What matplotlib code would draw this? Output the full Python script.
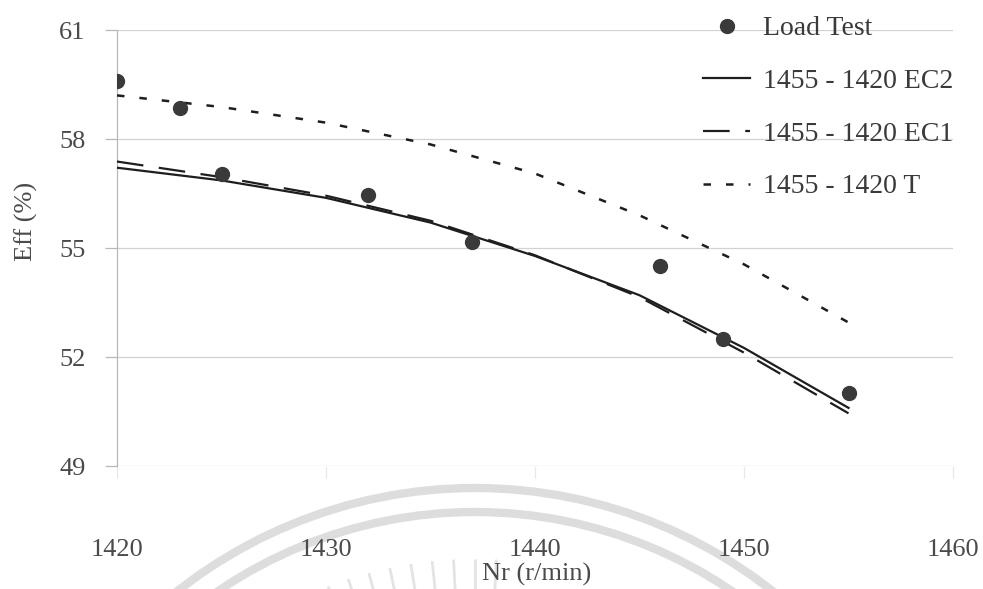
import numpy as np
import matplotlib
matplotlib.use("Agg")
import matplotlib.pyplot as plt
from matplotlib.patches import Circle
from matplotlib.lines import Line2D

plt.rcParams['font.family'] = ['Liberation Serif', 'DejaVu Serif']

# Measured load-test points
speed_test = [1420, 1423, 1425, 1432, 1437, 1446, 1449, 1455]
eff_test = [59.6, 58.85, 57.05, 56.45, 55.17, 54.5, 52.5, 51.0]

# Estimated efficiency curves
speed_fit = [1420, 1425, 1430, 1435, 1440, 1445, 1450, 1455]
eff_ec2 = [57.21, 56.86, 56.38, 55.70, 54.78, 53.70, 52.25, 50.60]
eff_ec1 = [57.38, 56.95, 56.44, 55.75, 54.80, 53.65, 52.12, 50.45]
eff_t = [59.20, 58.88, 58.45, 57.85, 57.05, 55.90, 54.55, 52.95]

labels = ['Load Test', '1455 - 1420 EC2', '1455 - 1420 EC1', '1455 - 1420 T']
x_ticks = [1420, 1430, 1440, 1450, 1460]
y_ticks = [49, 52, 55, 58, 61]

W, H = 983, 589
fig = plt.figure(figsize=(W / 100, H / 100), dpi=100)

# Faint seal in the lower margin, drawn in pixel space
bg = fig.add_axes([0, 0, 1, 1], zorder=0)
bg.set_xlim(0, W)
bg.set_ylim(H, 0)
bg.axis('off')
seal_col = '#dddddd'
cx, cy = 475, 969
for r in (481, 457):
    bg.add_patch(Circle((cx, cy), r, fill=False, ec=seal_col, lw=6.0))
for a in np.deg2rad(np.arange(87, 112, 3)):
    bg.plot([cx + 372 * np.cos(a), cx + 410 * np.cos(a)],
            [cy - 372 * np.sin(a), cy - 410 * np.sin(a)],
            color='#e4e4e4', lw=2.0, solid_capstyle='butt')

ax = fig.add_axes([117 / W, 1 - 466 / H, (953 - 117) / W, (466 - 30) / H], zorder=1)
ax.patch.set_alpha(0)

line_col = '#1e1e1e'
ax.plot(speed_test, eff_test, 'o', ms=10, color='#3a3a3a', zorder=4)
ax.plot(speed_fit, eff_ec2, '-', color=line_col, lw=1.6, zorder=3)
ax.plot(speed_fit, eff_ec1, color=line_col, lw=1.6, dashes=(12, 7), zorder=3)
ax.plot(speed_fit, eff_t, color=line_col, lw=1.8, dashes=(3, 6), zorder=3)

ax.set_xlim(1420, 1460)
ax.set_ylim(49, 61)
ax.set_xticks(x_ticks)
ax.set_yticks(y_ticks)

grid_col = '#d2d2d2'
ax.grid(axis='y', color=grid_col, lw=0.9)
ax.set_axisbelow(True)
for s in ('top', 'right', 'bottom'):
    ax.spines[s].set_visible(False)
ax.spines['left'].set_color('#b8b8b8')
ax.spines['left'].set_linewidth(0.9)

tick_col = '#4a4a4a'
ax.tick_params(axis='y', direction='out', length=8.5, width=0.9, color='#b8b8b8',
               pad=14, labelsize=19, labelcolor=tick_col)
ax.tick_params(axis='x', direction='out', length=8.5, width=0.9, color='#e8e8e8',
               pad=44, labelsize=19, labelcolor=tick_col)

fig.text(26 / W, 1 - 221 / H, 'Eff (%)', rotation=90, ha='center', va='center',
         fontsize=19, color=tick_col)
fig.text(537 / W, 1 - 574 / H, 'Nr (r/min)', ha='center', va='center',
         fontsize=19, color=tick_col)

handles = [
    Line2D([], [], ls='none', marker='o', ms=10, color='#3a3a3a'),
    Line2D([], [], color=line_col, lw=1.6),
    Line2D([], [], color=line_col, lw=1.6, dashes=(12, 7)),
    Line2D([], [], color=line_col, lw=1.8, dashes=(3, 6)),
]
fig.legend(handles, labels, loc='upper left', bbox_to_anchor=(703 / W, 1 - 16 / H),
           frameon=False, fontsize=20, handlelength=1.7, handletextpad=0.45,
           labelspacing=0.98, borderpad=0, borderaxespad=0, numpoints=1,
           labelcolor='#3a3a3a')

fig.savefig('out.png', dpi=100)
